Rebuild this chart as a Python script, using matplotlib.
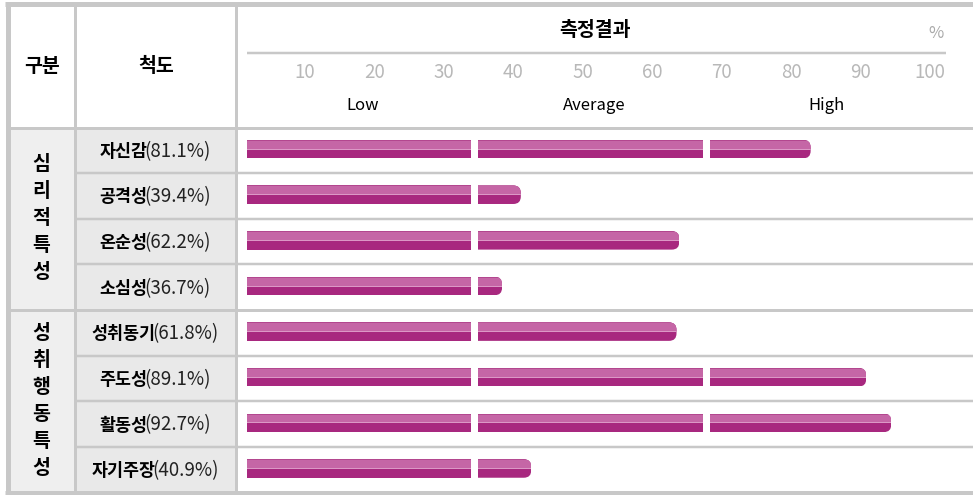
import matplotlib
matplotlib.use("Agg")
import matplotlib.pyplot as plt
from matplotlib.patches import FancyBboxPatch
from matplotlib.offsetbox import TextArea, HPacker, AnnotationBbox

plt.rcParams['font.family'] = ['Noto Sans CJK KR', 'DejaVu Sans']

# ---------------- data ----------------
header_group = "구분"
header_scale = "척도"
header_result = "측정결과"
unit_label = "%"
groups = ["심리적특성", "성취행동특성"]
group_sizes = [4, 4]
scales = ["자신감", "공격성", "온순성", "소심성", "성취동기", "주도성", "활동성", "자기주장"]
values = [81.1, 39.4, 62.2, 36.7, 61.8, 89.1, 92.7, 40.9]
tick_values = [10, 20, 30, 40, 50, 60, 70, 80, 90, 100]
level_labels = ["Low", "Average", "High"]

# ---------------- layout (pixels) ----------------
W, H = 973, 495
PT = 0.72  # points per pixel at dpi 100
line_c = "#c8c8c8"
x_left, x_c1, x_c2, x_bar0, x_bar1 = 7.5, 74.5, 235.5, 247, 942
y_top, y_head, y_bot = 4, 127.5, 492.5
n = len(scales)
row_h = (y_bot - y_head) / n

fig = plt.figure(figsize=(W / 100, H / 100), dpi=100)
tab = fig.add_axes([0, 0, 1, 1])
tab.set_xlim(0, W)
tab.set_ylim(H, 0)
tab.axis('off')

# backgrounds
tab.fill_between([x_left, x_c1], y_head, y_bot, color="#efefef", lw=0, zorder=0)
tab.fill_between([x_c1, x_c2], y_head, y_bot, color="#e9e9e9", lw=0, zorder=0)

# grid lines
tab.plot([x_left - 2.5, W], [y_top, y_top], color=line_c, lw=5 * PT, solid_capstyle='butt')
tab.plot([x_left - 2.5, W], [y_bot, y_bot], color=line_c, lw=5 * PT, solid_capstyle='butt')
tab.plot([x_left, x_left], [y_top, y_bot], color=line_c, lw=5 * PT, solid_capstyle='butt')
for xv in (x_c1, x_c2):
    tab.plot([xv, xv], [y_top, y_bot], color=line_c, lw=3 * PT, solid_capstyle='butt')
tab.plot([x_left, W], [y_head, y_head], color=line_c, lw=3 * PT, solid_capstyle='butt')
start = 0
for gi, gs in enumerate(group_sizes):
    for r in range(1, gs):
        yy = y_head + (start + r) * row_h
        tab.plot([x_c1, W], [yy, yy], color=line_c, lw=2.5 * PT, solid_capstyle='butt')
    start += gs
    if start < n:
        yy = y_head + start * row_h
        tab.plot([x_left, W], [yy, yy], color=line_c, lw=3 * PT, solid_capstyle='butt')

# header texts
tab.text(42, 66, header_group, fontsize=14, fontweight='bold', ha='center', va='center', color='#000000')
tab.text(156, 66, header_scale, fontsize=14, fontweight='bold', ha='center', va='center', color='#000000')

# group labels (vertical)
start = 0
char_step = 27
for g, gs in zip(groups, group_sizes):
    yc = y_head + (start + gs / 2) * row_h
    m = len(g)
    for j, ch in enumerate(g):
        tab.text(41, yc + (j - (m - 1) / 2) * char_step, ch, fontsize=14, fontweight='bold',
                 ha='center', va='center', color='#000000')
    start += gs

# scale labels
for i, (s, v) in enumerate(zip(scales, values)):
    yc = y_head + (i + 0.5) * row_h + 1
    t1 = TextArea(s, textprops=dict(fontsize=12.5, fontweight='bold', color='#000000'))
    t2 = TextArea(f"({v:.1f}%)", textprops=dict(fontsize=13.5, color='#222222'))
    box = HPacker(children=[t1, t2], sep=-2, pad=0, align='baseline')
    ab = AnnotationBbox(box, (155, yc), xycoords='data', box_alignment=(0.5, 0.5),
                        frameon=False, pad=0)
    tab.add_artist(ab)

# ---------------- header axis (percent scale) ----------------
hx = fig.add_axes([x_bar0 / W, (H - y_head) / H, (x_bar1 - x_bar0) / W, y_head / H])
hx.set_xlim(0, 100)
hx.set_ylim(y_head, 0)
hx.axis('off')
hx.text(50, 30, header_result, fontsize=14, fontweight='bold', ha='center', va='center', color='#000000')
hx.text(99.1, 33, unit_label, fontsize=12, ha='center', va='center', color='#aaaaaa')
hx.plot([0, 100.6], [53, 53], color=line_c, lw=2.5 * PT, solid_capstyle='butt', clip_on=False)
for tv in tick_values:
    hx.text(tv - 1.7, 72, str(tv), fontsize=13.5, fontweight='light', ha='center', va='center',
            color='#b8b8b8')
for k, lab in enumerate(level_labels):
    hx.text((k + 0.5) * 100 / 3, 105, lab, fontsize=12, ha='center', va='center', color='#000000')

# ---------------- bar axis ----------------
ax = fig.add_axes([x_bar0 / W, (H - y_bot) / H, (x_bar1 - x_bar0) / W, (y_bot - y_head) / H])
ax.set_xlim(0, 100)
ax.set_ylim(n, 0)
ax.axis('off')

px_x = (x_bar1 - x_bar0) / 100.0   # pixels per x unit
px_y = row_h                        # pixels per y unit
bar_h_px = 18.5
bh = bar_h_px / px_y
segments = [(0, 32.3), (33.3, 65.6), (66.6, 100)]
dark, light, hl, edge = "#a8287f", "#c566a6", "#dc98c6", "#b3478f"
r_px = 7.5

for i, v in enumerate(values):
    yc = i + 0.5 - 1.2 / px_y
    top = yc - bh / 2
    for a, b in segments:
        if v <= a:
            break
        e = min(v, b)
        layers = [
            (top, bh, dark),
            (top, 1 / px_y, edge),
            (top + 1 / px_y, 7.8 / px_y, light),
            (top + 8.8 / px_y, 1.0 / px_y, hl),
        ]
        clip = None
        if e >= v:
            clip = FancyBboxPatch((a - 3, top), e - (a - 3), bh,
                                  boxstyle=f"round,pad=0,rounding_size={r_px / px_x}",
                                  mutation_aspect=px_x / px_y)
            clip.set_transform(ax.transData)
        for y0, hh, col in layers:
            bars = ax.barh([y0 + hh / 2], [e - a], left=[a], height=hh, color=col, lw=0)
            if clip is not None:
                for p in bars:
                    p.set_clip_path(clip)

fig.savefig("out.png", dpi=100)
